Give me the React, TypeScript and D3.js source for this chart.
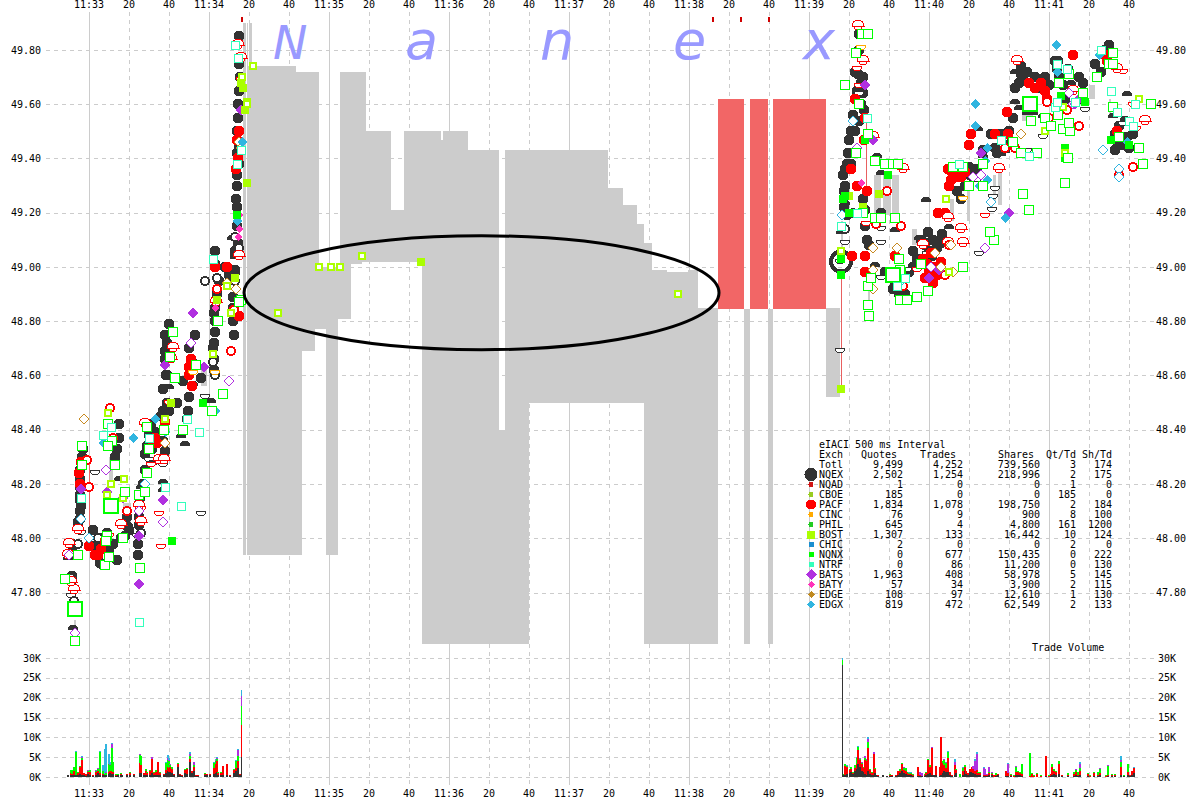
import React from "react";
import * as d3 from "d3";

type P = [number, number];

// ---------- axes ----------
const priceTicks = [49.8, 49.6, 49.4, 49.2, 49.0, 48.8, 48.6, 48.4, 48.2, 48.0, 47.8];
const volTicks = [0, 5, 10, 15, 20, 25, 30];
const timeTicks = d3.range(0, 540, 20);
const minuteNames = ["11:33", "11:34", "11:35", "11:36", "11:37", "11:38", "11:39", "11:40", "11:41"];

// ---------- grey / red quote bands: [sec0, sec1, top price, bottom price] ----------
const greyBands: [number, number, number, number][] = [
  [77, 78.5, 49.9, 47.94], [79, 79.5, 49.9, 47.94], [80, 81.5, 49.9, 47.94], [79.5, 80, 49.74, 47.94],
  [81.5, 103.5, 49.74, 47.94], [103.5, 106.5, 49.72, 47.94], [106.5, 113, 49.72, 48.69], [113, 115, 49.72, 48.77],
  [115, 118.5, 49.0, 48.77], [118.5, 124.5, 49.0, 47.94], [124.5, 125.5, 49.0, 48.81], [125.5, 131, 49.72, 48.81],
  [131, 136.5, 49.72, 49.01], [136.5, 138.5, 49.72, 49.02], [138.5, 151, 49.5, 49.02], [151, 157.5, 49.21, 49.02],
  [157.5, 166.5, 49.5, 49.02], [166.5, 176, 49.5, 47.61], [176, 177, 49.47, 47.61], [177, 189.5, 49.5, 47.61],
  [189.5, 205, 49.43, 47.61], [205, 208, 48.4, 47.61], [208, 220, 49.43, 47.61], [220, 259.5, 49.43, 48.5],
  [259.5, 267, 49.29, 48.5], [267, 274, 49.23, 48.5], [274, 277.5, 49.16, 48.5], [277.5, 281.5, 49.09, 47.61],
  [281.5, 289, 48.99, 47.61], [289, 299.5, 48.98, 47.61], [299.5, 304.5, 48.99, 47.61], [304.5, 314.5, 48.85, 47.61],
  [327.5, 330.5, 48.845, 47.61], [339.5, 342, 48.845, 47.61], [368.5, 375.5, 48.85, 48.52],
  // narrow spread stems among the quotes
  [56, 59, 48.64, 48.56], [60, 62, 48.66, 48.6], [17, 21, 48.13, 48.05], [10, 12, 48.3, 48.2],
  [392.5, 396, 49.34, 49.19], [397, 401, 49.34, 49.19], [401.5, 405, 49.34, 49.19], [411.5, 414, 49.14, 49.08],
  [430.5, 432.5, 49.25, 49.17], [439, 440.5, 49.3, 49.17], [452, 453.5, 49.34, 49.24], [454.5, 456.5, 49.34, 49.23],
  [454.5, 456.5, 49.38, 49.24], [451.5, 452, 49.25, 49.21], [466.5, 472, 49.6, 49.54], [500, 503, 49.67, 49.62], [510, 511, 49.62, 49.56],
];
const redBands: [number, number, number, number][] = [
  [314.5, 327.5, 49.62, 48.845], [330.5, 339.5, 49.62, 48.845], [342, 368.5, 49.62, 48.845],
];
const thinGrey: [number, number, number][] = [[376, 49.17, 49.04], [375.5, 48.0, 47.9], [389.5, 48.95, 48.85], [-7.5, 47.7, 47.64]];
const thinRed: [number, number, number][] = [[376, 48.99, 48.55], [388.5, 49.55, 49.18], [0, 48.28, 48.03]];
const topTicks = [76.5, 312, 326, 340];

// ---------- markers: [seconds after 11:33, price] ----------
const darkSolid: P[] = [
  [-5.5, 48.06], [-4, 48.12], [-4.5, 48.1], [-3, 48.33], [-3.5, 48.3], [24.5, 47.94], [24.5, 47.98], [25, 48.05], [7, 47.9], [5.5, 47.91],
  [2, 48.03], [19, 48.08], [19.5, 48.04], [31.5, 48.33], [29, 48.34], [49.5, 48.47], [49, 48.44], [40, 48.79], [39, 48.72], [38, 48.69],
  [38, 48.66], [39, 48.6], [50, 48.52], [51.5, 48.65], [63, 48.76], [63, 48.8], [62.5, 48.72], [62.5, 48.66], [62.5, 48.62], [63, 49.01],
  [74.5, 49.09], [74, 49.3], [74.5, 49.6], [72, 48.89], [73, 48.98], [74, 49.34], [72, 48.85], [70, 48.97],
  [-4.5, 48.25], [-4.5, 48.22], [-4.5, 48.19], [-4.5, 48.16], [-4.5, 48.14], [-4.5, 48.07], [-8.5, 47.98], [-8.5, 47.95], [-8.5, 47.86],
  [6, 48.0], [8, 47.97], [10, 47.95], [12, 47.98], [14, 47.92], [9, 48.02], [3, 47.97], [15, 48.42], [15, 48.37], [14, 48.33], [13, 48.3], [20, 48.03], [18, 48.01], [16, 48.0],
  [25, 48.08], [25.5, 48.15], [27, 48.2], [28, 48.25], [28, 48.31], [30, 48.38], [31, 48.42], [33, 48.39], [36, 48.45], [37, 48.47], [37, 48.36], [38, 48.32],
  [38, 48.75], [38.5, 48.6], [37, 48.55], [39, 48.5], [40, 48.47], [44, 48.5], [47, 48.58], [50, 48.7], [52, 48.62], [56, 48.59], [53, 48.75],
  [62, 48.7], [62.5, 48.83], [63, 48.85], [64, 48.9], [65, 48.95], [63, 49.06], [68, 49.0], [72.5, 48.75], [72, 48.8], [73, 49.06], [74, 49.15],
  [75, 49.75], [75, 49.65], [74.5, 49.55], [74, 49.5], [75, 49.45], [74, 49.42], [75, 49.38], [73.5, 49.25], [74, 49.22], [75.5, 49.7], [75, 49.85],
  [384.5, 49.71], [387.5, 49.58], [379.5, 49.42], [377, 49.34], [388, 49.21], [405, 49.03], [414, 49.03], [421.5, 49.04], [419.5, 49.13],
  [426.5, 49.12], [440.5, 49.34], [453, 49.44], [462, 49.55], [466, 49.71], [466, 49.74], [473, 49.7], [478, 49.7], [484, 49.73], [484.5, 49.76],
  [489.5, 49.73], [513, 49.49], [514.5, 49.46], [519, 49.48], [380, 49.47], [382, 49.56], [384, 49.65], [385, 49.8], [386, 49.68], [381, 49.38],
  [378, 49.3], [418, 49.09], [423, 49.0], [424, 48.97], [398, 48.98], [402, 48.92], [408, 48.9],
  [381, 49.42], [379, 49.38], [378, 49.36], [377.5, 49.28], [377.5, 49.22], [379, 49.19], [381, 49.5], [383, 49.5], [385, 49.54], [386, 49.6], [383, 49.72], [385, 49.86], [387, 49.64], [387, 49.7],
  [387, 49.25], [388, 49.15], [389, 49.1], [390, 49.08], [403, 48.94], [405, 48.9], [407, 48.96], [410, 48.98], [412, 49.06], [416, 49.1], [420, 49.06], [418, 49.08], [422, 49.1], [424, 49.07], [426, 49.09],
  [434, 49.28], [436, 49.25], [438, 49.3], [440, 49.37], [442, 49.33], [444, 49.36], [447, 49.43], [451, 49.49], [454, 49.42], [456, 49.49], [460, 49.5], [463, 49.66], [465, 49.68], [467, 49.69], [469, 49.72],
  [475, 49.66], [480, 49.67], [483, 49.76], [485, 49.7], [487, 49.67], [488, 49.62], [495, 49.7], [497, 49.68], [503, 49.75], [506, 49.72], [510, 49.82], [508, 49.8], [515, 49.52], [516, 49.45], [513, 49.43], [520, 49.44], [522, 49.49], [518, 49.54],
];
const darkDome: P[] = [
  [-8, 47.66], [-9, 47.83], [-10.5, 47.92], [-4, 48.18], [15, 48.21], [26, 48.18], [31.5, 48.27], [37, 48.2], [37, 48.17], [46, 48.37], [48, 48.34],
  [36, 48.44], [71.5, 49.1], [73, 49.03], [52, 48.56], [61, 48.5], [40, 48.55], [73, 48.99], [73, 49.04],
  [393, 49.0], [396, 49.34], [396, 49.2], [412, 49.0], [378, 49.23], [376, 49.12], [394, 49.4], [418.5, 49.24], [430, 49.14], [458, 49.42], [469, 49.56],
  [463, 49.71], [463, 49.6], [472, 49.56], [477, 49.55], [491, 49.67], [512, 49.55], [519, 49.63], [403, 49.13], [415, 49.1], [444.5, 49.5], [447, 49.4], [456, 49.41], [465, 49.58],
];
const darkBowl: P[] = [
  [-9, 47.8], [-10, 47.87], [25.5, 48.12], [30, 48.3], [37, 48.28], [24, 48.02], [58, 48.53], [3, 48.25], [-4, 48.03], [56, 48.1],
  [375.5, 49.03], [375.5, 48.7], [404, 49.0], [396, 48.97], [396, 49.15], [396, 49.1], [444, 49.33], [453, 49.3], [451.5, 49.22], [452, 49.27], [466, 49.43],
  [477, 49.49], [469, 49.44], [496, 49.62], [498, 49.59], [517, 49.54], [419, 49.06], [445, 49.06], [409, 49.0], [378, 49.1], [385, 49.6], [385, 49.65],
];
const darkRing: P[] = [[-7.5, 47.77], [-5.5, 47.98], [4.5, 48.0], [64, 48.96], [62, 48.65], [58, 48.95], [73, 48.95], [73, 49.11], [75, 49.07], [378, 49.14], [382, 49.2], [63, 48.6], [26, 48.02], [461, 49.46]];
const redSolid: P[] = [
  [4.5, 47.94], [0, 47.97], [32, 48.36], [38, 48.43], [75, 48.82], [63, 49.0], [69, 49.0], [72.5, 48.84], [50, 48.63], [50, 48.6], [51.5, 48.56],
  [51, 48.66], [383, 49.62], [388, 49.55], [387.5, 49.47], [381, 49.36], [384, 49.3], [389, 49.28], [381.5, 49.04], [388, 49.04], [388, 48.98],
  [403, 49.04], [402.5, 48.98], [419, 49.01], [423, 49.0], [417, 49.03], [420, 48.99], [424, 48.97], [426, 49.02], [424.5, 49.2], [428, 49.2], [431, 49.32],
  [429.5, 49.36], [431.5, 49.35], [434, 49.33], [440, 49.45], [441, 49.49], [453, 49.49], [459, 49.57], [459.5, 49.49], [470, 49.68], [473, 49.66], [476, 49.68], [478, 49.65], [479, 49.62], [492, 49.78], [508, 49.78], [509, 49.76], [514, 49.5],
  [6, 47.96], [8, 47.99], [-5, 48.24], [-4, 48.28], [-4.5, 48.2], [3, 47.94], [30, 48.33], [34, 48.35], [33, 48.37], [74, 49.47], [74.5, 49.4], [75, 49.5], [73.5, 49.36], [418, 48.96], [421, 49.05], [422, 48.94], [430, 49.3], [438, 49.35], [436, 49.33],
];
const redDome: P[] = [
  [-9, 47.84], [-10.5, 47.94], [-10, 47.98], [-5.5, 48.03], [-7.5, 47.81], [16, 48.05], [25, 48.12], [26, 48.06], [35, 48.29], [37.5, 48.29], [28, 48.42],
  [63.5, 48.87], [75, 49.04], [74.5, 49.82], [76, 49.77], [42, 48.7], [41, 48.66], [384.5, 49.89], [387, 49.76], [392, 49.48], [407, 49.36], [417, 49.08],
  [429.5, 49.09], [437, 49.09], [429.5, 49.18], [436, 49.14], [464, 49.76], [492, 49.65], [514, 49.73], [528, 49.54], [455, 49.36],
];
const redBowl: P[] = [
  [10, 48.02], [31, 48.28], [26, 48.12], [36, 47.98], [35, 48.1], [40, 48.51], [388.5, 49.17], [385, 49.68], [448, 49.2], [462, 49.45], [494, 49.53], [517, 49.73],
  [522, 49.61], [523.5, 49.52], [405, 49.03], [414, 49.0], [76, 49.7], [384, 49.74],
];
const redRing: P[] = [
  [0, 48.19], [-1, 48.29], [10.5, 48.48], [19, 48.1], [64, 48.92], [72.5, 48.84], [71, 48.69], [399, 49.28], [393.5, 49.16], [406, 49.15], [428, 48.97], [463, 49.44],
  [479, 49.61], [480, 49.55], [489, 49.58], [495, 49.52], [515, 49.34], [522, 49.37], [458, 49.44], [430, 49.08], [12, 48.37], [407, 48.93],
];
const greenOpen: P[] = [
  [-7, 47.62], [-12, 47.85], [-5.5, 47.94], [9, 48.01], [8.5, 47.99], [8, 47.9], [10, 47.93], [17, 48.0], [11.5, 48.36], [9.5, 48.34], [13, 48.27],
  [9.5, 48.42], [18, 48.17], [-3.5, 48.27], [-3.5, 48.34], [25.5, 47.89], [25, 48.16], [28, 48.17], [29, 48.24], [37.5, 48.4], [30, 48.33], [29, 48.41],
  [47, 48.4], [40.5, 48.67], [42, 48.76], [53.5, 48.64], [61.5, 48.47], [67, 48.53], [64.5, 48.8], [76, 48.88], [75, 48.87], [43, 48.59], [61.5, 48.47],
  [386.5, 49.86], [389.5, 49.86], [385, 49.6], [383.5, 49.79], [389.5, 49.49], [383.5, 49.42], [393, 49.39], [387, 49.2], [393, 49.18], [396, 49.18], [403, 49.18], [398, 49.38], [402, 49.38], [404.5, 49.38],
  [389.5, 48.86], [389.5, 48.93], [390, 48.82], [391, 48.96], [406, 48.98], [405, 49.03], [416, 49.01], [414, 48.89], [405.5, 48.99], [419.5, 48.91], [405.5, 48.88], [409, 48.88],
  [437, 49.0], [432, 49.37], [437, 49.37], [447, 49.38], [440, 49.3], [447, 49.3], [452.5, 49.1], [450.5, 49.13], [462, 49.46], [466, 49.42], [474, 49.42], [488, 49.31], [487, 49.51], [489.5, 49.4],
  [470, 49.21], [471, 49.54], [478, 49.55], [481, 49.52], [485, 49.68], [490, 49.71], [497, 49.64], [510, 49.75], [512, 49.79], [504, 49.7], [490.5, 49.5], [484.5, 49.56],
  [512, 49.75], [512, 49.59], [515, 49.48], [525, 49.44], [531, 49.6], [527, 49.38], [378, 49.67], [467, 49.27], [490, 49.53],
];
const greenBig: P[] = [[-7, 47.74], [11, 48.12], [470.5, 49.6], [402, 48.97]];
const greenSolid: P[] = [[74, 49.19], [41.5, 47.99], [57, 48.5], [399.5, 49.34], [378, 49.26], [388, 49.47], [488, 49.44], [488, 49.4], [498, 49.61], [380, 49.2], [377, 49.25], [511, 49.47], [520, 49.45], [376, 49.03], [376, 48.97], [486, 49.63]];
const cyanOpen: P[] = [
  [-4, 48.15], [55, 48.39], [62, 49.03], [74, 49.38], [73, 49.82], [76, 49.43], [25, 47.69], [30, 48.37], [49, 48.44], [7, 48.38], [11, 48.41],
  [389, 49.55], [384, 49.2], [404, 48.93], [408, 48.96], [435, 49.38], [456, 49.47], [483, 49.59], [484, 49.61], [493, 49.61], [506, 49.8], [489, 49.73], [511, 49.65], [514, 49.57], [523, 49.6], [520, 49.54], [522, 49.52],
  [484, 49.75], [470, 49.41], [376, 49.15], [46, 48.12], [38, 48.19], [74.5, 49.77],
];
const limeSolid: P[] = [[76, 49.68], [77, 49.66], [79, 49.61], [78, 49.58], [79, 49.31], [166, 49.02], [376, 48.55], [380, 49.26], [387, 49.22], [395, 49.27], [406, 48.98], [41, 48.5], [64, 48.88], [73, 48.96]];
const limeOpen: P[] = [
  [82, 49.74], [76.5, 49.7], [79, 49.6], [94.5, 48.83], [115, 49.0], [121, 49.0], [125.5, 49.0], [136.5, 49.04], [294.5, 48.9], [376, 49.06],
  [9.5, 48.46], [11, 48.2], [9, 48.16], [17.5, 48.22], [17, 48.15], [38, 48.44], [62, 48.68], [69, 48.93], [71, 48.83], [430, 48.98], [478, 49.5], [488, 49.42], [487, 49.59], [525, 49.62], [428.5, 49.25],
];
const blueSolid: P[] = [[7, 48.35], [22, 48.37], [33, 48.44], [38, 48.39], [63, 48.47], [76.5, 49.46], [74, 49.17], [458, 49.18], [443, 49.6], [443, 49.52], [449, 49.44], [448, 49.39], [505, 49.78], [519, 49.46], [483.5, 49.82], [484, 49.72], [449, 49.32], [445, 49.3]];
const blueOpen: P[] = [[-4, 48.07], [0, 48.0], [28, 48.2], [376.5, 49.19], [451, 49.24], [507, 49.43], [515, 49.36], [515, 49.33], [382, 49.54], [406, 48.95]];
const purpleSolid: P[] = [[-4, 48.18], [9, 48.17], [25, 47.83], [25, 48.01], [37, 48.14], [57.5, 48.63], [52, 48.83], [38, 48.64], [76, 49.58], [388, 49.67], [392, 49.47], [389, 49.48], [420, 48.96], [425, 48.99], [446, 49.42], [460, 49.2], [493, 49.6], [495, 49.62]];
const purpleOpen: P[] = [[-7, 47.65], [-10, 47.94], [25, 48.1], [17, 48.15], [8.5, 48.25], [37, 48.06], [70, 48.58], [51, 48.72], [384, 49.44], [421, 49.0], [448, 49.07], [442, 49.33], [446, 49.34], [492, 49.6], [490, 49.64]];
const pinkSolid: P[] = [[75, 49.19], [75, 49.14], [63, 48.85], [74.5, 49.11], [386, 49.31]];
const orangeOpen: P[] = [[-2.5, 48.44], [38, 48.35], [73.5, 48.92], [69, 48.94], [392, 49.07], [392, 48.92], [392, 48.99], [404, 49.07], [423, 49.05], [426, 49.0], [432, 48.98], [431, 49.08], [75, 49.46], [76, 49.44], [466, 49.49]];
const orangeHalf: P[] = [[386, 49.82], [437, 49.26], [63, 48.62], [52, 48.62]];

// ---------- trade volume, thousands of shares: [sec, NQEX, PACF, NQNX, BATS, EDGX] ----------
const volume: [number, number, number, number, number, number][] = [
  [-11, 0.6, 0, 0, 0, 0], [-9.5, 0.5, 0.5, 0.8, 0, 0], [-9, 0.4, 0.4, 1, 0, 0], [-8, 0.5, 1, 1, 0, 0], [-7, 0.4, 0.2, 5.8, 0, 0.1], [-6, 0.4, 0.6, 0.2, 0, 0],
  [-5, 0.8, 1.8, 0.2, 0, 0], [-4, 0.5, 3.8, 0.6, 0.2, 0.2], [-3, 0.5, 0.5, 0, 0, 0], [-2, 0.3, 0.5, 0, 0, 0], [-1, 0.8, 0.5, 0.2, 0.3, 0], [0, 0.5, 0.8, 0.4, 0, 0],
  [1.5, 0.2, 0.2, 0, 0, 0], [3, 0.5, 0.7, 0.2, 0.4, 0], [4, 1, 0.6, 0.4, 0.2, 0.1], [5, 0.4, 0.5, 5.5, 0, 0.2], [6.5, 0.5, 0.3, 0.6, 0, 1.5], [7.5, 0.5, 0, 0.3, 0, 6.3],
  [8, 0.5, 0, 0.5, 0.2, 7.2], [9.5, 0.8, 0.4, 2, 0.2, 2.3], [10, 1, 0.4, 1.6, 0.2, 0.5], [11, 0.8, 0.6, 6, 0.8, 0.3], [11.5, 0.8, 0.5, 2.5, 0, 0], [13, 0.3, 0.3, 0.2, 0, 0],
  [14, 0.4, 0.2, 0.2, 0, 0], [15.5, 0.5, 0.3, 0.2, 0, 0], [16, 0.4, 0.2, 0, 0, 0], [18.5, 0.4, 0.4, 0, 0, 0], [20, 0.4, 0.6, 0.2, 0, 0], [22, 0.6, 0.2, 0, 0, 0],
  [25, 1, 2.5, 2, 0.3, 0], [25.5, 1, 2, 2.2, 0.2, 0], [27, 0.4, 0.6, 0, 0, 0], [28, 0.6, 1, 0.4, 0, 0], [28.5, 0.4, 0.6, 0.2, 0, 0], [30, 0.5, 1, 0.2, 0, 0],
  [31, 1, 3.5, 0, 0.5, 0], [32, 0.4, 0.6, 0.2, 0, 0], [33, 0.5, 0.8, 0.4, 0, 0], [34, 0.5, 3.3, 0, 0, 0], [35, 0.5, 0.4, 0.3, 0, 0], [37, 0.6, 0.2, 0, 0, 0],
  [38, 1, 0.8, 1.8, 0, 0.2], [39, 1.4, 1.2, 1.8, 0.4, 0.8], [39.5, 1.2, 1, 1.8, 0.4, 0.3], [40, 1.2, 1.2, 0.6, 0.3, 0], [41, 1, 1, 0.4, 0, 0], [42, 0.4, 0.4, 0, 0, 0],
  [44, 2.4, 0.8, 0.4, 0, 0], [45, 0.4, 0.4, 0, 0, 0], [46, 0.3, 0.1, 0, 0, 0], [47.5, 1, 0.8, 0.3, 0, 0], [48.5, 0.8, 1.2, 0.3, 0, 0], [50, 3.8, 0.8, 0.6, 0.5, 0.6],
  [51, 1, 0.4, 0.2, 0, 0], [52, 1.6, 0.8, 0.5, 0.8, 0], [53, 0.2, 0.2, 0, 0, 0], [54, 0.2, 0.2, 0, 0, 0], [57.5, 0.6, 0.2, 0.1, 0, 0.1], [58.5, 0.5, 0.2, 0, 0, 0],
  [60, 0.5, 0.2, 0.1, 0, 0], [62, 0.8, 1.5, 1.2, 0, 0.2], [63, 1, 2.4, 0.6, 0.4, 0.2], [63.5, 1.2, 2.8, 0.6, 0.2, 0.2], [64, 0.6, 0.4, 0.2, 0, 0], [65.5, 0.4, 0.6, 0.2, 0, 0],
  [66.5, 0.4, 2.4, 0, 0, 0], [68.5, 0.4, 2.8, 0, 0, 0], [70, 0.3, 0.3, 0, 0, 0], [72, 1, 0.8, 0.3, 0, 0], [73, 1.4, 0.8, 1.8, 0, 0.2], [74, 2.2, 1.8, 1.4, 1.4, 0.3],
  [75, 0.4, 0.4, 0, 0, 0], [76, 5, 8, 5, 2.4, 1.6],
  [376.5, 28.3, 0, 1.3, 0, 0.4], [377, 0.4, 0.2, 0.2, 0, 0], [377.5, 0.6, 2.2, 0.4, 0, 0.2], [378.5, 0.8, 1.6, 0.4, 0, 0.1], [380, 1, 0.8, 0.3, 0, 0], [380.5, 1.2, 0.8, 0.4, 0, 0.1],
  [381.5, 0.7, 0.3, 0.2, 0, 0], [382.5, 1.4, 0.8, 0.7, 0, 0], [383.5, 2, 1.2, 1.7, 0, 0.1], [384, 3.4, 3.4, 0.8, 0, 0.3], [385, 2.6, 1.6, 0.4, 0.2, 0.1], [386, 1.6, 1.8, 0.2, 0.1, 0],
  [387, 1.2, 1, 0.3, 0, 0], [387.5, 0.8, 3.4, 0.6, 0.5, 0], [388.5, 0.6, 3.4, 0.4, 0.2, 0], [389, 1.4, 6, 1.4, 0.8, 0.4], [390, 0.8, 1, 0.3, 0, 0], [391, 0.4, 0.6, 0.2, 0, 0],
  [392, 0.5, 5.2, 0, 0.6, 0], [392.5, 1, 1, 0.2, 0, 0], [393, 0.4, 0.2, 0, 0, 0], [394, 0.2, 0.2, 0, 0, 0], [396.5, 0.4, 0, 0, 0, 0], [398.5, 0.2, 0.1, 0, 0, 0],
  [400, 0.2, 0.2, 0.4, 0, 0], [401, 0.2, 0.2, 0.1, 0, 0], [403, 0.3, 0.3, 0, 0, 0], [404, 0.4, 1, 0.2, 0, 0], [405, 1, 0.6, 0.5, 0, 0], [406, 1.4, 1.8, 0.4, 0, 0],
  [407, 1, 0.8, 0.4, 0.3, 0], [408, 0.8, 0.8, 0.6, 0, 0], [409, 0.5, 0.6, 0.2, 0, 0], [409.5, 0.5, 0.2, 0.4, 0, 0.1], [410.5, 0.6, 0.2, 0.3, 0, 0.1], [411.5, 0.3, 0.3, 0.2, 0, 0],
  [414, 0.2, 2.2, 0, 0.1, 0], [415, 0.2, 0.2, 0, 0.8, 0], [416, 0.2, 0.1, 0, 0.6, 0], [417.5, 0.2, 0.4, 0.2, 0, 0], [418, 0.4, 0.5, 0.3, 0, 0], [419, 0.8, 3.6, 0.2, 0, 0],
  [420, 1, 1.6, 0.3, 0, 0], [421, 0.4, 7, 0, 0.1, 0], [422, 0.4, 0.2, 0, 0, 0], [423, 0.6, 2.2, 0, 0, 0], [425, 0.2, 2.2, 0, 0, 0], [425.5, 0.5, 9.5, 0, 0, 0],
  [426.5, 1, 2.6, 0.4, 0, 0], [427, 1.4, 1.6, 1.4, 0.2, 0], [428, 1.2, 1, 1.4, 0.2, 0], [429, 1.2, 3.6, 1.4, 0.2, 0.2], [430, 0.4, 0.8, 0, 0, 0], [431, 0.2, 0.2, 0, 0, 0],
  [432.5, 0.4, 2.6, 0.1, 0.6, 0.8], [433, 1, 0.8, 0.2, 0, 0.1], [435, 0, 0, 0.8, 0, 0], [436.5, 0.6, 0.8, 0.8, 0, 0.3], [437.5, 1.4, 1, 0.5, 0, 0], [438, 0.8, 0.6, 0.2, 0, 0],
  [439, 0.6, 0.3, 0.2, 0, 0], [440, 1.2, 0.7, 0.2, 0, 0], [441, 1.2, 1.2, 0, 0, 0], [441.5, 1, 1, 0, 0.8, 0], [442.5, 0.8, 0.8, 0, 2.5, 0.4], [443, 0.8, 0.8, 0, 0.8, 0],
  [443.5, 0.5, 1.2, 0, 4.2, 0.3], [444, 0.4, 0.6, 0.2, 0, 0], [445, 0.4, 0.6, 0.2, 0, 0], [447, 0.3, 0.3, 0, 1.7, 0.1], [447.5, 0.3, 0.3, 0, 1.3, 0.2], [448.5, 0.2, 0.2, 0, 0.4, 0],
  [449.5, 0.4, 0.6, 0.2, 1.2, 0.1], [451, 0.4, 0.4, 0.2, 0.2, 0], [452, 0, 0.4, 0, 0, 0], [453, 0.3, 0.2, 0.5, 0, 0], [454, 0.6, 0.2, 0, 0, 0],
  [458, 0.2, 1.4, 0, 0, 0], [459, 0.2, 0.8, 0, 2.4, 0.1], [460.5, 0.2, 0.2, 0.4, 0, 0], [462, 0.1, 0.2, 0.1, 0, 0], [463, 0.6, 0.6, 1.4, 0.2, 0], [464, 0.6, 0.6, 0.4, 0, 0],
  [465, 0.4, 0.6, 0.2, 0, 0], [466, 0.2, 0.6, 2.6, 0, 0], [470, 0, 0.2, 5.8, 0, 0], [471, 0, 0.8, 0.2, 0, 0], [472, 0, 0.2, 0.2, 0, 0], [473.5, 0, 0.8, 0.2, 0, 0], [475.5, 0, 0.3, 0.1, 0, 0],
  [478, 0.2, 5.2, 0, 0, 0], [479.5, 0.1, 0.2, 0.1, 0, 0], [480.5, 0.2, 0.6, 0, 0, 0], [481, 0.6, 2, 0.7, 0, 0], [482, 0.8, 0.8, 0.5, 0, 0], [483, 0.6, 0.6, 0.4, 0, 0],
  [484.5, 0.8, 2.4, 0.8, 0, 0], [486, 0.2, 0.2, 0, 0, 0], [489, 0.2, 0.4, 0.4, 0, 0], [492, 0.2, 0.5, 0.5, 0, 0.1], [493, 0.4, 0.8, 0.6, 0.2, 0], [494, 0.2, 0.4, 0.6, 0, 0], [495, 0.4, 1.2, 0.6, 1.2, 0.3],
  [499, 0.2, 0.6, 0.2, 0, 0], [500, 0.1, 0.2, 0.1, 0, 0], [502, 0.2, 0.8, 0.2, 0, 0], [504, 0.2, 0.4, 0.6, 0, 0], [505, 0.4, 0.5, 1.2, 0.1, 0], [508, 0.1, 0.2, 0.1, 0, 0], [509, 0.2, 0.4, 2.2, 0.2, 0.1], [511, 0.3, 0.3, 0.2, 0, 0], [512.5, 0.2, 0.3, 0.2, 0, 0],
  [515.5, 0.5, 2, 1.4, 0.5, 1], [517, 0.2, 0.1, 0.1, 0, 0], [519, 0.4, 0.8, 2.2, 0, 0], [520, 0.2, 0.2, 0, 0, 0], [521, 0.5, 1, 0, 0, 0.1], [522, 1, 1.2, 0, 0, 0.2],
];

// ---------- legend table ----------
const legendTitle = "eIACI 500 ms Interval";
const exchNames = ["Totl", "NQEX", "NQAD", "CBOE", "PACF", "CINC", "PHIL", "BOST", "CHIC", "NQNX", "NTRF", "BATS", "BATY", "EDGE", "EDGX"];
const quoteCounts = ["9,499", "2,502", "1", "185", "1,834", "76", "645", "1,307", "2", "0", "0", "1,963", "57", "108", "819"];
const tradeCounts = ["4,252", "1,254", "0", "0", "1,078", "9", "4", "133", "0", "677", "86", "408", "34", "97", "472"];
const shareCounts = ["739,560", "218,996", "0", "0", "198,750", "900", "4,800", "16,442", "0", "150,435", "11,200", "58,978", "3,900", "12,610", "62,549"];
const qtPerTd = ["3", "2", "1", "185", "2", "8", "161", "10", "2", "0", "0", "5", "2", "1", "2"];
const shPerTd = ["174", "175", "0", "0", "184", "100", "1200", "124", "0", "222", "130", "145", "115", "130", "133"];
const legendGlyphs: ([string, string, number] | null)[] = [
  null, ["c", "#333333", 6.5], ["c", "#d01515", 2.5], ["c", "#99cc22", 2.5], ["c", "#ff0000", 5], ["c", "#ffaa00", 2.5], ["c", "#22cc22", 2.5],
  ["s", "#aaff00", 8], ["s", "#1a8fd0", 5], ["s", "#00ff00", 5], ["s", "#33ffbb", 5], ["d", "#b030e0", 5.5], ["d", "#ff33bb", 3.5], ["d", "#c08a20", 3.5], ["d", "#30b5e0", 4],
];

const GRID = "#cccccc";
const MONO = "'DejaVu Sans Mono', monospace";
const DARK = "#333333", RED = "#ff0000", GREEN = "#00ff00", LIME = "#aaff00", CYAN = "#33ffbb", PURPLE = "#b030e0", BLUE = "#30b5e0", ORANGE = "#c88a20", PINK = "#ff33bb";

const x = d3.scaleLinear().domain([0, 480]).range([89, 1049]);
const y = d3.scaleLinear().domain([49.8, 47.8]).range([50, 592.5]);
const v = d3.scaleLinear().domain([0, 30]).range([777, 658]);

const halfUp = (r: number) => d3.arc()({ innerRadius: 0, outerRadius: r, startAngle: -Math.PI / 2, endAngle: Math.PI / 2 }) as string;
const halfDown = (r: number) => d3.arc()({ innerRadius: 0, outerRadius: r, startAngle: Math.PI / 2, endAngle: (3 * Math.PI) / 2 }) as string;
const diamond = (r: number) => `M0,${-r}L${r},0L0,${r}L${-r},0Z`;

function Marks({ pts, draw }: { pts: P[]; draw: (i: number) => React.ReactNode }) {
  return (
    <g shapeRendering="crispEdges">
      {pts.map((p, i) => (
        <g key={i} transform={`translate(${Math.round(x(p[0]))},${Math.round(y(p[1]))})`}>{draw(i)}</g>
      ))}
    </g>
  );
}
const circle = (r: number, fill: string, stroke = "none", sw = 0) => () => <circle r={r} fill={fill} stroke={stroke} strokeWidth={sw} />;
const path = (d: string, fill: string, stroke = "none", sw = 0) => () => <path d={d} fill={fill} stroke={stroke} strokeWidth={sw} />;
const square = (s: number, fill: string, stroke = "none", sw = 0) => () => <rect x={-s / 2} y={-s / 2} width={s} height={s} fill={fill} stroke={stroke} strokeWidth={sw} />;

export default function App() {
  const series = [DARK, RED, GREEN, PURPLE, BLUE];
  const hLines = priceTicks.map((t) => y(t)).concat(volTicks.map((t) => v(t)));
  return (
    <svg width={1200} height={800} style={{ position: "absolute", left: 0, top: 0, background: "#fff" }} fontFamily={MONO} fontSize={10}>
      {/* grid */}
      <g stroke={GRID} strokeWidth={1} shapeRendering="crispEdges">
        {hLines.map((py, i) => (
          <line key={i} x1={46} x2={1155} y1={Math.round(py) + 0.5} y2={Math.round(py) + 0.5} strokeDasharray="4 4" />
        ))}
        {timeTicks.map((s) => (
          <line key={s} x1={x(s) + 0.5} x2={x(s) + 0.5} y1={12} y2={785} strokeDasharray={s % 60 === 0 ? undefined : "4 4"} />
        ))}
      </g>
      {/* quote bands */}
      <g shapeRendering="crispEdges">
        {greyBands.map((b, i) => (
          <rect key={i} x={x(b[0])} width={x(b[1]) - x(b[0])} y={y(b[2])} height={y(b[3]) - y(b[2])} fill="#cccccc" />
        ))}
        {redBands.map((b, i) => (
          <rect key={i} x={x(b[0])} width={x(b[1]) - x(b[0])} y={y(b[2])} height={y(b[3]) - y(b[2])} fill="#f26666" />
        ))}
        {thinGrey.map((b, i) => (
          <rect key={i} x={x(b[0])} width={2} y={y(b[1])} height={y(b[2]) - y(b[1])} fill="#cccccc" />
        ))}
        {thinRed.map((b, i) => (
          <rect key={i} x={x(b[0])} width={1} y={y(b[1])} height={y(b[2]) - y(b[1])} fill="#e86060" />
        ))}
        {topTicks.map((s) => (
          <rect key={s} x={x(s) - 1} y={17} width={2} height={5} fill="#d00000" />
        ))}
      </g>
      {/* watermark */}
      <g fill="#9999ff" fontFamily="'DejaVu Sans', sans-serif" fontStyle="italic">
        <text x={273} y={59} fontSize={46}>N</text>
        <text x={405} y={59} fontSize={54}>a</text>
        <text x={540} y={59} fontSize={54}>n</text>
        <text x={673} y={59} fontSize={54}>e</text>
        <text x={803} y={59} fontSize={54}>x</text>
      </g>
      {/* markers */}
      <Marks pts={darkSolid} draw={circle(5.5, DARK)} />
      <g shapeRendering="crispEdges" fill="none" stroke={DARK} strokeWidth={4}>
        <circle cx={x(376)} cy={y(49.02)} r={10} />
      </g>
      <Marks pts={darkBowl} draw={path(halfDown(5), "#fff", DARK, 1)} />
      <Marks pts={darkDome} draw={path(halfUp(5.5), DARK)} />
      <Marks pts={darkRing} draw={circle(4, "#fff", DARK, 2)} />
      <Marks pts={redSolid} draw={circle(5.5, RED)} />
      <Marks pts={redBowl} draw={path(halfDown(5), "#fff", RED, 1)} />
      <Marks pts={redDome} draw={path(halfUp(6), "#fff", RED, 1)} />
      <Marks pts={redDome} draw={path(halfDown(4), "#fff", RED, 1)} />
      <Marks pts={redRing} draw={circle(4, "#fff", RED, 2)} />
      <Marks pts={purpleOpen} draw={path(diamond(5), "#fff", PURPLE, 1)} />
      <Marks pts={purpleSolid} draw={path(diamond(5.5), PURPLE)} />
      <Marks pts={pinkSolid} draw={path(diamond(4), PINK)} />
      <Marks pts={orangeOpen} draw={path(diamond(5), "#fff", ORANGE, 1)} />
      <Marks pts={orangeHalf} draw={path(halfDown(5), "#fff", "#ffaa00", 1)} />
      <Marks pts={blueOpen} draw={path(diamond(5), "#fff", BLUE, 1)} />
      <Marks pts={blueSolid} draw={path(diamond(5), BLUE)} />
      <Marks pts={limeSolid} draw={square(8, LIME)} />
      <Marks pts={greenSolid} draw={square(8, GREEN)} />
      <Marks pts={limeOpen} draw={square(6, "#fff", LIME, 1.5)} />
      <Marks pts={greenOpen} draw={square(9, "#fff", GREEN, 1.2)} />
      <Marks pts={greenBig} draw={square(14, "#fff", GREEN, 2)} />
      <Marks pts={cyanOpen} draw={square(8, "#fff", CYAN, 1)} />
      {/* ellipse */}
      <ellipse cx={x(196.25)} cy={y(48.905)} rx={x(118.75) - x(0)} ry={y(48.695) - y(48.905)} fill="none" stroke="#000" strokeWidth={3} />
      {/* volume */}
      <g shapeRendering="crispEdges">
        {volume.map((row, i) => {
          let acc = 0;
          const total = row[1] + row[2] + row[3] + row[4] + row[5];
          return (
            <g key={i}>
              {series.map((c, j) => {
                const val = row[j + 1];
                if (!val) return null;
                const h = v(acc) - v(acc + val);
                const yy = v(acc + val);
                acc += val;
                return <rect key={j} x={Math.round(x(row[0]))} y={yy} width={total > 12 ? 1 : 2} height={h} fill={c} />;
              })}
            </g>
          );
        })}
      </g>
      {/* axis labels */}
      <g fill="#000">
        {timeTicks.map((s) => {
          const lab = s % 60 === 0 ? minuteNames[s / 60] : String(s % 60);
          return (
            <g key={s} textAnchor="middle">
              <text x={x(s)} y={8}>{lab}</text>
              <text x={x(s)} y={797}>{lab}</text>
            </g>
          );
        })}
        {priceTicks.map((t) => (
          <g key={t}>
            <text x={41} y={y(t) + 3.5} textAnchor="end">{t.toFixed(2)}</text>
            <text x={1156} y={y(t) + 3.5}>{t.toFixed(2)}</text>
          </g>
        ))}
        {volTicks.map((t) => (
          <g key={t}>
            <text x={41} y={v(t) + 3.5} textAnchor="end">{t}K</text>
            <text x={1158} y={v(t) + 3.5}>{t}K</text>
          </g>
        ))}
      </g>
      {/* legend */}
      <g fill="#000">
        <text x={819} y={448}>{legendTitle}</text>
        <text x={819} y={458}>Exch</text>
        <text x={897} y={458} textAnchor="end">Quotes</text>
        <text x={956} y={458} textAnchor="end">Trades</text>
        <text x={1034} y={458} textAnchor="end">Shares</text>
        <text x={1076} y={458} textAnchor="end">Qt/Td</text>
        <text x={1112} y={458} textAnchor="end">Sh/Td</text>
        {exchNames.map((n, i) => {
          const ty = 468 + i * 10;
          const g = legendGlyphs[i];
          return (
            <g key={n}>
              {g && (
                <g transform={`translate(811,${ty - 3.5})`} shapeRendering="crispEdges">
                  {g[0] === "c" && <circle r={g[2]} fill={g[1]} />}
                  {g[0] === "s" && <rect x={-g[2] / 2} y={-g[2] / 2} width={g[2]} height={g[2]} fill={g[1]} />}
                  {g[0] === "d" && <path d={diamond(g[2])} fill={g[1]} />}
                </g>
              )}
              <text x={819} y={ty}>{n}</text>
              <text x={903} y={ty} textAnchor="end">{quoteCounts[i]}</text>
              <text x={963} y={ty} textAnchor="end">{tradeCounts[i]}</text>
              <text x={1040} y={ty} textAnchor="end">{shareCounts[i]}</text>
              <text x={1076} y={ty} textAnchor="end">{qtPerTd[i]}</text>
              <text x={1112} y={ty} textAnchor="end">{shPerTd[i]}</text>
            </g>
          );
        })}
        <text x={1032} y={651}>Trade Volume</text>
      </g>
    </svg>
  );
}
